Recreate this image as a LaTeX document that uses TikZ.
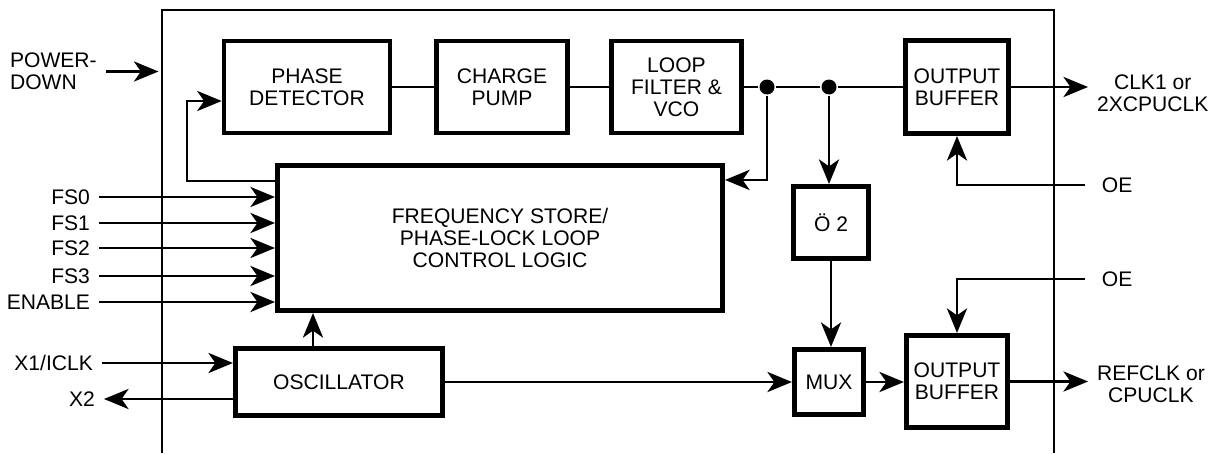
\documentclass[tikz,border=0pt]{standalone}
\usepackage{fontspec}
\setmainfont{Liberation Sans}
\usetikzlibrary{arrows.meta}

\begin{document}
\begin{tikzpicture}[x=0.02cm, y=-0.02cm, line width=1.3pt,
	font=\fontsize{12pt}{12.6pt}\selectfont,
	blk/.style={draw, line width=2.65pt, align=center, inner sep=0pt},
	lab/.style={inner sep=4.5pt, text height=8.5pt, text depth=0pt},
	dot/.style={circle, fill, inner sep=0pt, minimum size=0.3cm},
	arr/.style={-{Stealth[length=14pt, width=11.5pt, inset=4pt]}}]
	\useasboundingbox (0,0) rectangle (1216,453);
	\draw[line width=1.4pt] (162,453) -- (162,10) -- (1054,10) -- (1054,453);
	\coordinate (ctl) at (162,10);
	
	\node[blk, minimum width=3.32cm, minimum height=1.84cm] (pd) at (307,87) {PHASE\\DETECTOR};
	\node[blk, minimum width=2.63cm, minimum height=1.84cm] (cp) at (502,87) {CHARGE\\PUMP};
	\node[blk, minimum width=2.61cm, minimum height=1.84cm] (lf) at (676.5,87) {LOOP\\FILTER \&\\VCO};
	\node[blk, minimum width=2.07cm, minimum height=1.87cm] (ob1) at (957,87) {OUTPUT\\BUFFER};
	\node[blk, minimum width=8.91cm, minimum height=2.91cm] (fs) at (500,238) {FREQUENCY STORE/\\PHASE-LOCK LOOP\\CONTROL LOGIC};
	\node[blk, minimum width=1.51cm, minimum height=1.45cm] (div) at (831,222.5) {Ö 2};
	\node[blk, minimum width=1.39cm, minimum height=1.31cm] (mux) at (829,382) {MUX};
	\node[blk, minimum width=2.03cm, minimum height=1.85cm] (ob2) at (957,381.5) {OUTPUT\\BUFFER};
	\node[blk, minimum width=4.15cm, minimum height=1.35cm] (osc) at (339,382) {OSCILLATOR};
	
	\node[dot] (j1) at (767,87) {};
	\node[dot] (j2) at (829,87) {};
	
	\node[lab, anchor=west, align=left, text height=] (pdn) at (1,71.5) {POWER-\\DOWN};
	\node[lab, anchor=east] (fs0) at (99,197) {FS0};
	\node[lab, anchor=east] (fs1) at (99,223) {FS1};
	\node[lab, anchor=east] (fs2) at (99,248) {FS2};
	\node[lab, anchor=east] (fs3) at (99,276) {FS3};
	\node[lab, anchor=east] (en) at (99,302) {ENABLE};
	\node[lab, anchor=east] (x1) at (102,363) {X1/ICLK};
	\node[lab, anchor=east] (x2) at (104,399) {X2};
	\node[lab, anchor=west, align=center, text height=] (clk) at (1088,93.5) {CLK1 or\\2XCPUCLK};
	\node[lab, anchor=west, align=center, text height=] (ref) at (1088,384) {REFCLK or\\CPUCLK};
	\node[lab, anchor=west, inner xsep=9pt] (oe1) at (1085,185) {OE};
	\node[lab, anchor=west, inner xsep=9pt] (oe2) at (1085,279) {OE};
	
	\draw[arr] (pdn.east) -- ([xshift=-2pt]pdn.east -| ctl);
	\draw (pd) -- (cp);
	\draw (cp) -- (lf);
	\draw (lf) -- (j1) -- (j2) -- (ob1);
	\draw[arr] (ob1) -- (ob1 -| clk.west);
	\draw[arr] (oe1.west) -| (ob1.south);
	\draw[arr] (j1) |- ([yshift=-0.34cm]fs.north east);
	\draw[arr] (j2) -- (j2 |- div.north);
	\coordinate (fbl) at (187,181);
	\draw[arr] (fbl -| fs.west) -- (fbl) |- ([yshift=-0.28cm]pd.west);
	\foreach \n in {fs0,fs1,fs2,fs3,en}
		\draw[arr] (\n.east) -- (\n.east -| fs.west);
	\draw[arr] (x1.east) -- (x1.east -| osc.west);
	\draw[arr] (x2.east -| osc.west) -- (x2.east);
	\draw[arr] ([xshift=-0.52cm]osc.north) -- ([xshift=-0.52cm]osc.north |- fs.south);
	\draw[arr] (osc) -- (mux);
	\draw[arr] (div.south) -- (div.south |- mux.north);
	\draw[arr] (mux) -- (mux -| ob2.west);
	\draw[arr] (oe2.west) -| (ob2.north);
	\draw[arr] (ob2) -- (ob2 -| ref.west);
\end{tikzpicture}
\end{document}
